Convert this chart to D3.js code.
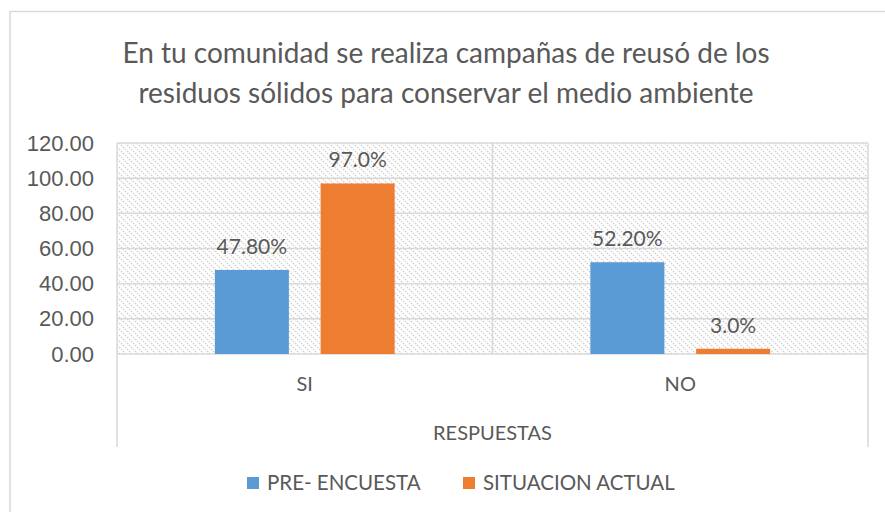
<!DOCTYPE html>
<html>
<head>
<meta charset="utf-8">
<script src="https://cdn.jsdelivr.net/npm/d3@7"></script>
<style>
  body { margin: 0; background: #fff; }
  svg { display: block; font-family: Lato, "Open Sans", sans-serif; }
</style>
</head>
<body>
<svg width="885" height="512"></svg>
<script>
var categories = ["SI", "NO"];
var seriesNames = ["PRE- ENCUESTA", "SITUACION ACTUAL"];
var preEncuesta = [47.8, 52.2];
var situacionActual = [97.0, 3.0];
var preLabels = ["47.80%", "52.20%"];
var actualLabels = ["97.0%", "3.0%"];
var yTicks = [0, 20, 40, 60, 80, 100, 120];
var titleLines = ["En tu comunidad se realiza campañas de reusó de los",
                  "residuos sólidos para conservar el medio ambiente"];
var colors = ["#5b9bd5", "#ed7d31"];

var svg = d3.select("svg"),
    width = +svg.attr("width"),
    height = +svg.attr("height");

var textColor = "#595959";
var lineColor = "#d9d9d9";

// chart area border (open at the bottom of the picture)
svg.append("path")
  .attr("d", "M10,520 V11.5 H890")
  .attr("fill", "none")
  .attr("stroke", lineColor)
  .attr("stroke-width", 1.5);

var plot = {left: 117, right: 868, top: 143, bottom: 354};

var x = d3.scaleBand().domain(categories).range([plot.left, plot.right]);
var x1 = d3.scaleBand().domain(seriesNames).range([0, x.bandwidth()]).paddingInner(0.3).paddingOuter(0.925);
var y = d3.scaleLinear().domain([0, 120]).range([plot.bottom, plot.top]);

var defs = svg.append("defs");
var pat = defs.append("pattern")
  .attr("id", "hatch")
  .attr("patternUnits", "userSpaceOnUse")
  .attr("width", 6).attr("height", 6);
pat.append("path")
  .attr("d", "M-1,-1 L7,7 M-4,2 L2,8 M4,-2 L10,4")
  .attr("stroke", "#cfcfcf")
  .attr("stroke-width", 1.4)
  .attr("stroke-dasharray", "1.6,1.2");

svg.append("rect")
  .attr("x", plot.left).attr("y", plot.top)
  .attr("width", plot.right - plot.left).attr("height", plot.bottom - plot.top)
  .attr("fill", "url(#hatch)");

// gridlines
svg.append("g").selectAll("line").data(yTicks).join("line")
  .attr("x1", plot.left).attr("x2", plot.right)
  .attr("y1", function(d) { return y(d); }).attr("y2", function(d) { return y(d); })
  .attr("stroke", lineColor).attr("stroke-width", 1.5);

// vertical lines: plot edges and category separator, edges run down through the label area
svg.append("g").selectAll("line").data([plot.left, x("NO"), plot.right]).join("line")
  .attr("x1", function(d) { return d; }).attr("x2", function(d) { return d; })
  .attr("y1", plot.top)
  .attr("y2", function(d, i) { return i == 1 ? plot.bottom : 447; })
  .attr("stroke", lineColor).attr("stroke-width", 1.5);

// y axis labels
var yAxis = svg.append("g")
  .attr("transform", "translate(" + 94 + ",0)")
  .call(d3.axisLeft(y).tickValues(yTicks).tickSize(0).tickPadding(0).tickFormat(d3.format(".2f")));
yAxis.select(".domain").remove();
yAxis.selectAll("text")
  .attr("fill", textColor)
  .style("font-size", "22px")
  .style("font-family", null);

// bars
var groups = svg.append("g").selectAll("g").data(categories).join("g")
  .attr("transform", function(d) { return "translate(" + x(d) + ",0)"; });

var barData = function(d, i) {
  return [
    {series: seriesNames[0], value: preEncuesta[i], label: preLabels[i], color: colors[0]},
    {series: seriesNames[1], value: situacionActual[i], label: actualLabels[i], color: colors[1]}
  ];
};

groups.selectAll("rect").data(barData).join("rect")
  .attr("x", function(d) { return x1(d.series); })
  .attr("width", x1.bandwidth())
  .attr("y", function(d) { return y(d.value); })
  .attr("height", function(d) { return y(0) - y(d.value); })
  .attr("fill", function(d) { return d.color; });

groups.selectAll("text").data(barData).join("text")
  .attr("x", function(d) { return x1(d.series) + x1.bandwidth() / 2; })
  .attr("y", function(d) { return y(d.value) - 16; })
  .attr("text-anchor", "middle")
  .attr("fill", textColor)
  .style("font-size", "21px")
  .text(function(d) { return d.label; });

// category labels
svg.append("g").selectAll("text").data(categories).join("text")
  .attr("x", function(d) { return x(d) + x.bandwidth() / 2; })
  .attr("y", 391)
  .attr("text-anchor", "middle")
  .attr("fill", textColor)
  .style("font-size", "20px")
  .text(function(d) { return d; });

svg.append("text")
  .attr("x", (plot.left + plot.right) / 2)
  .attr("y", 440)
  .attr("text-anchor", "middle")
  .attr("fill", textColor)
  .style("font-size", "20px")
  .text("RESPUESTAS");

// title
svg.append("g").selectAll("text").data(titleLines).join("text")
  .attr("x", 446)
  .attr("y", function(d, i) { return 63 + i * 40; })
  .attr("text-anchor", "middle")
  .attr("fill", textColor)
  .style("font-size", "28px")
  .text(function(d) { return d; });

// legend
var legendX = [247, 463];
var legend = svg.append("g").selectAll("g").data(seriesNames).join("g")
  .attr("transform", function(d, i) { return "translate(" + legendX[i] + ",477)"; });
legend.append("rect")
  .attr("width", 12).attr("height", 12)
  .attr("fill", function(d, i) { return colors[i]; });
legend.append("text")
  .attr("x", 20).attr("y", 13)
  .attr("fill", textColor)
  .style("font-size", "20.5px")
  .text(function(d) { return d; });
</script>
</body>
</html>
